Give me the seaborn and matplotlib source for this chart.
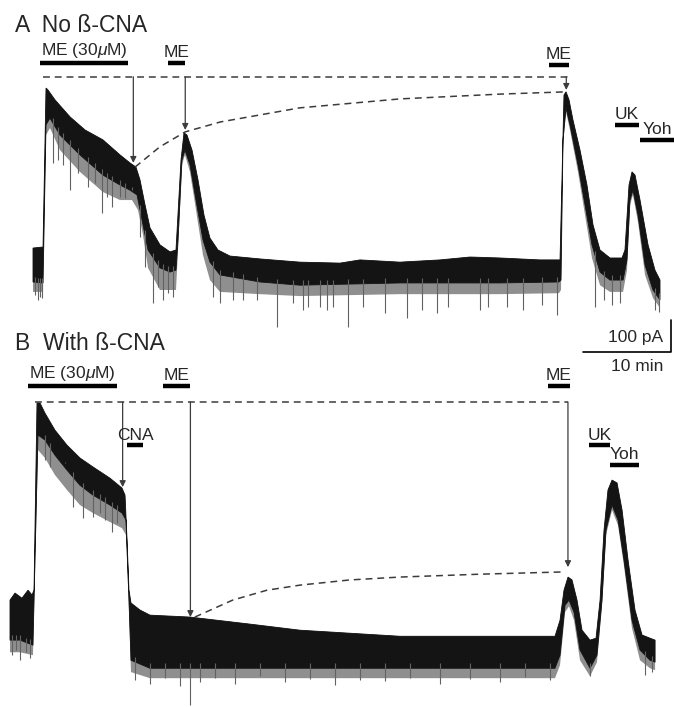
"""
Whole-cell current traces: ME responses without and with beta-CNA.
"""

import numpy as np
import seaborn as sns
import matplotlib.pyplot as plt


# ---------- panel A: No ß-CNA  (time in min, current in pA) ----------
A_UP_T = [0, 1.02, 1.14, 1.48, 1.70, 2.50, 4.20, 5.91, 7.95, 9.89, 11.02,
          11.70, 12.16, 12.73, 13.30, 14.43, 15.57, 16.25, 16.82, 17.16,
          17.50, 18.07, 18.75, 19.43, 20.11, 21.02, 22.39, 25.80, 30.34,
          34.89, 37.16, 41.70, 46.25, 49.66, 53.07, 57.61, 59.89, 60.11,
          60.34, 60.57, 60.91, 61.36, 62.16, 62.95, 63.64, 64.43, 65.57,
          66.93, 67.27, 67.73, 68.07, 68.41, 68.98, 69.89, 70.68, 71.25]
A_UP_I = [53, 56, 56, 553, 547, 516, 463, 422, 391, 344, 319,
          306, 266, 188, 116, 63, 41, 47, 328, 413,
          406, 359, 266, 156, 84, 47, 28, 19, 9,
          6, 16, 9, 16, 25, 22, 16, 16, 266,
          531, 541, 516, 453, 359, 250, 125, 47, 22,
          22, 47, 250, 291, 281, 203, 63, -16, -47]
A_LO_T = [0, 1.02, 1.14, 1.48, 1.93, 3.07, 5.34, 7.95, 9.89, 11.02, 11.82,
          12.39, 13.07, 14.43, 15.57, 16.25, 16.48, 16.93, 17.27, 17.84,
          18.52, 19.32, 20.11, 21.25, 25.80, 30.34, 41.70, 53.07, 59.77,
          60.00, 60.23, 60.57, 61.02, 61.93, 62.73, 63.52, 64.43, 65.57,
          67.05, 67.50, 67.84, 68.18, 68.75, 69.55, 70.45, 71.25]
A_LO_I = [-53, -56, -56, 438, 459, 406, 344, 281, 250, 234, 219,
          141, 47, -9, -22, -16, 78, 328, 359, 313,
          203, 78, 9, -31, -53, -63, -56, -56, -53,
          -47, 391, 491, 438, 313, 188, 63, -22, -47,
          -47, 16, 203, 234, 156, 0, -78, -109]
# lower edge of the dense grey noise under the band
A_NOISE_T = [0, 1.02, 1.14, 1.48, 1.93, 3.07, 5.34, 7.95, 9.89, 11.25,
             11.93, 12.5, 13.07, 14.43, 16.25, 16.48, 16.93, 17.27, 17.84,
             18.52, 19.32, 20.11, 21.25, 25.8, 30.34, 41.7, 53.07, 59.77,
             60.0, 60.23, 60.57, 61.02, 61.93, 62.73, 63.52, 64.43, 65.57,
             67.05, 67.5, 67.84, 68.18, 68.75, 69.55, 70.45, 71.25]
A_NOISE_I = [-84, -84, -78, 406, 428, 359, 291, 228, 203, 203,
             172, 94, -9, -78, -78, 47, 313, 344, 291,
             172, 31, -47, -84, -91, -97, -91, -91, -88,
             -78, 375, 478, 422, 291, 156, 22, -63, -84,
             -84, -16, 188, 219, 134, -31, -103, -134]
A_SPIKE_T = [0.23, 0.57, 0.80, 1.02, 2.27, 2.84, 3.41, 4.20, 5.11, 6.25,
             7.05, 7.84, 8.41, 8.98, 9.89, 10.45, 11.25, 12.16, 12.73,
             13.64, 14.20, 14.77, 15.34, 15.91, 20.45, 21.25, 22.73, 23.86,
             25.45, 27.73, 29.55, 30.68, 31.25, 32.61, 33.41, 34.09, 35.80,
             37.50, 40.0, 42.5, 44.2, 45.9, 47.2, 50.8, 51.7, 53.9, 55.7,
             57.8, 59.5, 63.9, 64.9, 65.8, 66.7, 70.7, 71.1]
A_SPIKE_I = [-94, -109, -100, -103, 319, 328, 313, 234, 288, 244,
             256, 163, 213, 181, 213, 209, 234, 88, -6,
             -119, -69, -109, -88, -100, -100, -119, -109, -109,
             -109, -194, -119, -141, -131, -131, -141, -131, -194,
             -131, -150, -166, -141, -150, -131, -141, -131, -131, -141,
             -125, -156, -131, -109, -125, -119, -141, -147]

A_REF_T = [1.1, 61.0]            # dashed reference at first peak
A_REF_I = [588, 588]
A_CURVE_T = [11.6, 14.4, 17.3, 21.3, 30.3, 41.7, 53.1, 60.5]
A_CURVE_I = [306, 369, 416, 447, 491, 519, 534, 541]
A_ARROW_T = [11.4, 17.3, 60.6]
A_ARROW_I = [319, 422, 547]

A_DRUGS = ['ME (30$\\mu$M)', 'ME', 'ME', 'UK', 'Yoh']
A_DRUG_START = [0.8, 15.3, 58.6, 66.1, 69.0]
A_DRUG_END = [10.8, 17.3, 60.9, 68.9, 72.8]
A_DRUG_LEVEL = [631, 631, 625, 438, 391]

# ---------- panel B: With ß-CNA ----------
B_UP_T = [0, 0.57, 1.36, 2.05, 2.50, 2.73, 3.07, 3.41, 3.98, 5.11, 6.48,
          7.95, 9.43, 11.36, 12.73, 13.07, 13.30, 13.52, 13.75, 14.77,
          15.91, 20.45, 27.27, 32.95, 44.32, 53.41, 61.93, 62.50, 62.95,
          63.41, 63.86, 64.43, 65.0, 65.91, 66.59, 67.05, 67.50, 67.95,
          68.41, 68.98, 69.55, 70.23, 71.02, 71.82, 72.73, 73.30]
B_UP_I = [0, 22, 6, 31, 16, 31, 616, 616, 584, 531, 484,
          444, 416, 381, 350, 328, 188, 31, -9, -31,
          -47, -53, -75, -94, -113, -113, -113, -63, 31,
          72, 63, 0, -94, -125, -119, 0, 219, 344,
          375, 366, 281, 125, -31, -109, -119, -125]
B_LO_T = [0, 1.14, 2.61, 3.18, 3.98, 5.11, 6.48, 7.95, 9.43, 11.36,
          12.73, 13.18, 13.52, 13.75, 15.91, 32.95, 61.93, 62.50, 63.07,
          63.52, 64.09, 64.77, 65.91, 66.70, 67.27, 67.73, 68.41, 69.09,
          69.77, 70.68, 71.59, 72.73, 73.30]
B_LO_I = [-125, -125, -141, 516, 500, 453, 406, 359, 328, 297,
          272, 250, 0, -188, -213, -213, -213, -172, -16,
          0, -38, -156, -213, -172, 0, 219, 297, 250,
          125, -63, -156, -188, -194]
B_NOISE_T = [0, 1.14, 2.61, 3.18, 3.98, 5.11, 6.48, 7.95, 9.43, 11.36,
             12.73, 13.18, 13.52, 13.75, 15.91, 32.95, 61.93, 62.5, 63.07,
             63.52, 64.09, 64.77, 65.91, 66.7, 67.27, 67.73, 68.41, 69.09,
             69.77, 70.68, 71.59, 72.73, 73.3]
B_NOISE_I = [-163, -163, -172, 469, 444, 391, 344, 297, 272, 244,
             225, 203, -31, -225, -244, -244, -244, -203, -38,
             -19, -63, -188, -238, -194, -19, 203, 281, 234,
             106, -88, -188, -213, -219]
B_SPIKE_T = [0.23, 0.68, 1.14, 1.82, 2.27, 3.98, 4.55, 6.25, 7.16, 8.30,
             9.43, 10.23, 10.80, 11.59, 12.16, 14.2, 15.9, 17.6, 19.3,
             20.5, 21.6, 23.3, 25.6, 28.4, 31.3, 34.1, 36.9, 39.8, 42.6,
             45.5, 48.9, 52.3, 55.7, 58.5, 61.4, 65.9, 72.2, 73.0]
B_SPIKE_I = [-172, -156, -188, -163, -181, 438, 416, 431, 291, 256,
             259, 272, 250, 213, 241, -250, -263, -244, -269,
             -328, -256, -244, -263, -238, -256, -247, -266, -250, -253,
             -244, -263, -247, -256, -241, -250, -238, -234, -225]

B_REF_T = [2.8, 63.4]
B_REF_I = [619, 619]
B_CURVE_T = [21.0, 25.3, 29.2, 33.0, 38.6, 44.3, 53.4, 62.8]
B_CURVE_I = [-53, 0, 31, 47, 63, 72, 81, 88]
B_ARROW_T = [12.8, 20.5, 63.4]
B_ARROW_I = [353, -53, 103]

B_DRUGS = ['ME (30$\\mu$M)', 'ME', 'CNA', 'ME', 'UK', 'Yoh']
B_DRUG_START = [2.05, 17.4, 13.3, 61.1, 65.8, 68.2]
B_DRUG_END = [12.16, 20.5, 15.1, 63.6, 68.2, 71.5]
B_DRUG_LEVEL = [669, 669, 484, 669, 484, 422]

TRACE = '#141414'
NOISE = '#8f8f8f'
SPIKE = '#626262'
GUIDE = '#3c3c3c'


def draw_trace(ax, up_t, up_i, lo_t, lo_i, noise_t, noise_i,
               spike_t, spike_i):
    """Grey noise floor, filled current band, then downward spikes."""
    ax.fill(np.r_[up_t, noise_t[::-1]], np.r_[up_i, noise_i[::-1]],
            color=NOISE, lw=0)
    tops = np.interp(spike_t, lo_t, lo_i) + 15
    ax.vlines(spike_t, spike_i, tops, color=SPIKE, lw=0.8)
    ax.fill(np.r_[up_t, lo_t[::-1]], np.r_[up_i, lo_i[::-1]],
            color=TRACE, lw=0.6, ec=TRACE)


def draw_guides(ax, ref_t, ref_i, curve_t, curve_i, arrow_t, arrow_i):
    """Dashed reference lines and arrows pointing to each peak."""
    dash = (0, (4.5, 3.2))
    sns.lineplot(x=ref_t, y=ref_i, ax=ax, color=GUIDE, lw=1.1,
                 linestyle=dash, sort=False, estimator=None)
    sns.lineplot(x=curve_t, y=curve_i, ax=ax, color=GUIDE, lw=1.1,
                 linestyle=dash, sort=False, estimator=None)
    for t, i in zip(arrow_t, arrow_i):
        ax.annotate('', xy=(t, i), xytext=(t, ref_i[0]),
                    arrowprops=dict(arrowstyle='-|>', lw=0.9, color=GUIDE,
                                    mutation_scale=9, shrinkA=0, shrinkB=0))


def draw_drugs(ax, names, starts, ends, levels, text_gap):
    for name, t0, t1, lev in zip(names, starts, ends, levels):
        ax.plot([t0, t1], [lev, lev], color='black', lw=3.2,
                solid_capstyle='butt')
        ax.text((t0 + t1) / 2, lev + text_gap, name, ha='center',
                va='bottom', fontsize=12.5)


def main():
    sns.set_theme(style='white')
    plt.rcParams['font.family'] = ['Liberation Sans', 'DejaVu Sans']
    plt.rcParams['mathtext.fontset'] = 'custom'
    plt.rcParams['mathtext.rm'] = 'Liberation Sans'
    plt.rcParams['mathtext.it'] = 'Liberation Sans:italic'

    fig = plt.figure(figsize=(6.74, 7.07), dpi=100)
    ax_a = fig.add_axes([0, 1 - 330 / 707, 1, 330 / 707])
    ax_b = fig.add_axes([0, 0, 1, 377 / 707])

    draw_trace(ax_a, A_UP_T, A_UP_I, A_LO_T, A_LO_I, A_NOISE_T, A_NOISE_I,
               A_SPIKE_T, A_SPIKE_I)
    draw_guides(ax_a, A_REF_T, A_REF_I, A_CURVE_T, A_CURVE_I,
                A_ARROW_T, A_ARROW_I)
    draw_drugs(ax_a, A_DRUGS, A_DRUG_START, A_DRUG_END, A_DRUG_LEVEL, 8)
    ax_a.set_xlim(-3.75, 72.84)
    ax_a.set_ylim(-203, 828)

    draw_trace(ax_b, B_UP_T, B_UP_I, B_LO_T, B_LO_I, B_NOISE_T, B_NOISE_I,
               B_SPIKE_T, B_SPIKE_I)
    draw_guides(ax_b, B_REF_T, B_REF_I, B_CURVE_T, B_CURVE_I,
                B_ARROW_T, B_ARROW_I)
    draw_drugs(ax_b, B_DRUGS, B_DRUG_START, B_DRUG_END, B_DRUG_LEVEL, 8)
    ax_b.set_xlim(-1.136, 75.45)
    ax_b.set_ylim(-334, 844)

    # scale bar: 10 min x 100 pA
    ax_b.plot([65.1, 75.1, 75.1], [775, 775, 875], color='black', lw=1.2,
              clip_on=False)
    ax_b.text(74.2, 822, '100 pA', ha='right', va='center', fontsize=12.5)
    ax_b.text(74.2, 731, '10 min', ha='right', va='center', fontsize=12.5)

    for ax in (ax_a, ax_b):
        ax.set_axis_off()
        for child in ax.get_children():
            child.set_clip_on(False)

    fig.text(15 / 674, 1 - 25 / 707, 'A  No ß-CNA', fontsize=16.5,
             va='center', ha='left')
    fig.text(15 / 674, 1 - 343 / 707, 'B  With ß-CNA', fontsize=16.5,
             va='center', ha='left')

    fig.savefig('out.png', dpi=100, facecolor='white')


if __name__ == '__main__':
    main()
